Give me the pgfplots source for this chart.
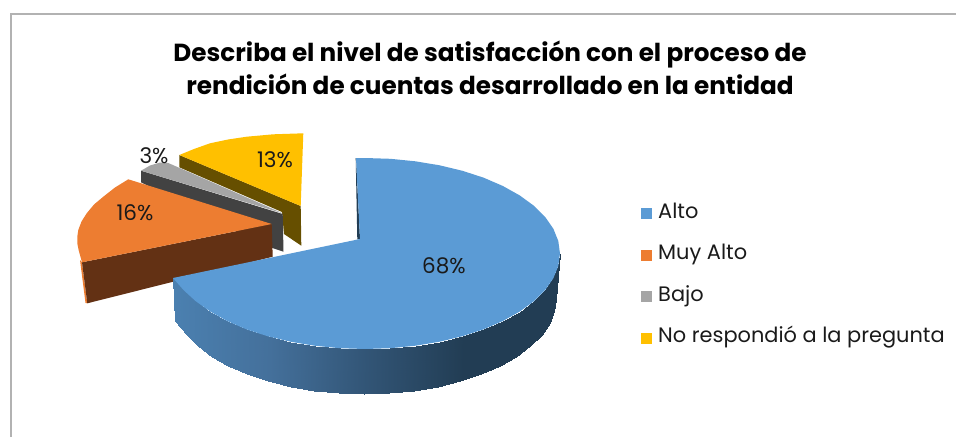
\documentclass[border=0pt]{standalone}
\usepackage{fontspec}
\setmainfont{Poppins}
\usepackage{pgfplots}
\pgfplotsset{compat=1.18}
\definecolor{cblue}{HTML}{5B9BD5}
\definecolor{corange}{HTML}{ED7D31}
\definecolor{cgrey}{HTML}{A5A5A5}
\definecolor{cyellow}{HTML}{FFC000}
\definecolor{dorange}{HTML}{633114}
\definecolor{dgrey}{HTML}{424242}
\definecolor{dyellow}{HTML}{664F00}
\definecolor{ink}{HTML}{1A1A1A}
\begin{document}
\begin{tikzpicture}
\useasboundingbox (0,0) rectangle (956pt,437pt);
\begin{axis}[
  at={(0,0)}, anchor=south west,
  scale only axis, width=956pt, height=437pt,
  xmin=0, xmax=956, ymin=0, ymax=437, y dir=reverse,
  hide axis, clip=true,
  colormap={blueside}{rgb255=(75,128,176) rgb255=(68,112,155) rgb255=(50,85,118) rgb255=(34,61,84) rgb255=(34,61,84)},
  legend cell align=left,
  legend style={draw=none, fill=none, at={(axis cs:641,204)}, anchor=north west,
    font=\fontsize{20.9}{24}\selectfont, text=ink, row sep=22.6pt, inner sep=0pt, outer sep=0pt,
    nodes={inner sep=0pt, text height=14pt, text depth=5pt}},
  legend image code/.code={\fill[#1,draw=none] (0pt,-5.5pt) rectangle (11pt,5.5pt); \path (17pt,0pt);},
]
% frame
\addplot[forget plot, draw=black!30, line width=1.8pt] coordinates {(11,437) (11,14) (956,14)};
% yellow slice
\addplot[forget plot, fill=dyellow, draw=none] coordinates {(179.3,155) (300.7,206) (301.3,245.7) (284,234) (282,212) (179.3,167.3)} --cycle;
\addplot[forget plot, fill=cyellow, draw=none] coordinates {(179.3,155) (194,149) (210,143.3) (228,139.5) (246.7,136.7) (273.3,134.3) (303.3,133.3) (300.7,206)} --cycle;
% grey slice
\addplot[forget plot, fill=dgrey, draw=none] coordinates {(141,170.7) (282.7,214) (283.5,251.7) (272.5,248) (141,182.3)} --cycle;
\addplot[forget plot, fill=cgrey, draw=none] coordinates {(141,170.7) (150,165.5) (160,162.5) (168.3,163) (282.7,213.3)} --cycle;
% orange slice
\addplot[forget plot, fill=corange, draw=none] coordinates {(80,260) (82,262.3) (87.3,303.3) (85.5,303)} --cycle;
\addplot[forget plot, fill=dorange, draw=none] coordinates {(82,262.3) (271.7,224) (272.7,256.7) (87.3,303.3)} --cycle;
\addplot[forget plot, fill=corange, draw=none] coordinates {(128.3,179.3) (271.7,224) (82,262.3) (78.6,250) (77.3,243.3) (77.3,236.7) (78.3,230) (81.5,221.5) (86.7,213.3) (94,204.5) (103.3,196.7) (115,187.5)} --cycle;
% blue slice side
\addplot[forget plot, surf, shader=interp, mesh/rows=2, mesh/cols=23, point meta=x, point meta min=173, point meta max=560] coordinates {
(173,278) (183.5,290) (195.5,301) (210.3,311.6) (227.1,321) (246.3,329.3) (267.5,336.2) (290.4,341.7) (314.5,345.7) (339.6,348.2) (365,349) (390.4,348.2) (415.5,345.7) (439.6,341.7) (462.5,336.2) (483.7,329.3) (502.9,321) (519.7,311.6) (533.9,301.25) (545.2,290) (553.4,278.2) (558.3,266) (560,253.5)
(175,321) (186.5,335) (197.6,346.25) (211.6,356.6) (228.2,366) (247.1,374.3) (268,381.2) (290.5,386.7) (314.3,390.7) (339,393.2) (364,394) (389,393.2) (413.7,390.7) (437.5,386.7) (460,381.2) (480.9,374.3) (499.8,366) (516.4,356.6) (530.4,346.25) (541.5,335) (549.6,323.2) (554.4,311) (556,298.5)
};
\addplot[forget plot, fill={rgb,255:red,34;green,61;blue,84}, draw=none] coordinates {(355.7,158) (356,158) (360,239) (357.3,239.5)} --cycle;
% blue slice top
\addplot[forget plot, fill=cblue, draw=none] coordinates {
(356,158) (365,158) (390.4,158.8) (415.5,161.3) (439.6,165.3) (462.5,170.8) (483.7,177.7) (502.9,186) (519.7,195.4) (533.9,205.75) (545.2,217) (553.4,228.8) (558.3,241) (560,253.5) (558.3,266) (553.4,278.2) (545.2,290) (533.9,301.25) (519.7,311.6) (502.9,321) (483.7,329.3) (462.5,336.2) (439.6,341.7) (415.5,345.7) (390.4,348.2) (365,349) (339.6,348.2) (314.5,345.7) (290.4,341.7) (267.5,336.2) (246.3,329.3) (227.1,321) (210.3,311.6) (195.5,301) (183.5,290) (173,278) (360,239)} --cycle;
% legend
\addlegendimage{fill=cblue}\addlegendentry{Alto}
\addlegendimage{fill=corange}\addlegendentry{Muy Alto}
\addlegendimage{fill=cgrey}\addlegendentry{Bajo}
\addlegendimage{fill=cyellow}\addlegendentry{No respondió a la pregunta}
% labels
\node[text=ink, font=\fontsize{21.5}{24}\selectfont] at (axis cs:444,266) {68\%};
\node[text=ink, font=\fontsize{21.5}{24}\selectfont] at (axis cs:135,213) {16\%};
\node[text=ink, font=\fontsize{21.5}{24}\selectfont] at (axis cs:154,156) {3\%};
\node[text=ink, font=\fontsize{21.5}{24}\selectfont] at (axis cs:275,160) {13\%};
% title
\node[text=black, font=\fontsize{24.7}{32.5}\selectfont\bfseries, align=center] at (axis cs:490,68) {Describa el nivel de satisfacción con el proceso de\\rendición de cuentas desarrollado en la entidad};
\end{axis}
\end{tikzpicture}
\end{document}
